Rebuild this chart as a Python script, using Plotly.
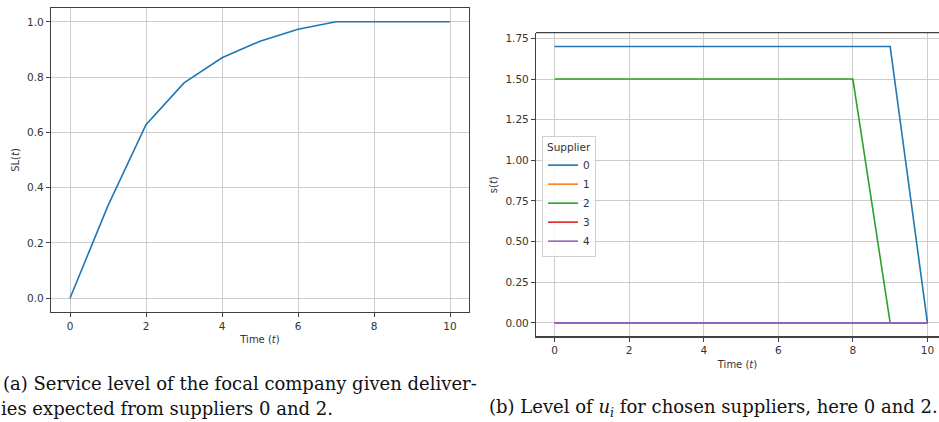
import plotly.graph_objects as go

W, H = 939, 422

# Data
t = [0, 1, 2, 3, 4, 5, 6, 7, 8, 9, 10]
service_level = [0.0, 0.335, 0.628, 0.779, 0.870, 0.930, 0.973, 1.0, 1.0, 1.0, 1.0]

suppliers = ["0", "1", "2", "3", "4"]
s0 = [1.7, 1.7, 1.7, 1.7, 1.7, 1.7, 1.7, 1.7, 1.7, 1.7, 0.0]
s1 = [0.0] * 11
s2 = [1.5, 1.5, 1.5, 1.5, 1.5, 1.5, 1.5, 1.5, 1.5, 0.0, 0.0]
s3 = [0.0] * 11
s4 = [0.0] * 11
supplier_values = [s0, s1, s2, s3, s4]
colors = ["#1f77b4", "#ff7f0e", "#2ca02c", "#d62728", "#9467bd"]

xticks = [0, 2, 4, 6, 8, 10]
yticks_a = [0.0, 0.2, 0.4, 0.6, 0.8, 1.0]
yticks_b = [0.0, 0.25, 0.5, 0.75, 1.0, 1.25, 1.5, 1.75]

fig = go.Figure()

fig.add_trace(go.Scatter(x=t, y=service_level, mode="lines",
                         line=dict(color=colors[0], width=1.6),
                         xaxis="x", yaxis="y", showlegend=False))

for name, vals, c in zip(suppliers, supplier_values, colors):
    fig.add_trace(go.Scatter(x=t, y=vals, mode="lines", name=name,
                             line=dict(color=c, width=1.6),
                             xaxis="x2", yaxis="y2", showlegend=True))

def px(x):
    return x / W

def py(y):
    return (H - y) / H

tickfont = dict(family="DejaVu Sans", size=10.5, color="#333333")
titlefont = dict(family="DejaVu Sans", size=10, color="#333333")
common = dict(showgrid=True, gridcolor="#cccccc", gridwidth=1,
              zeroline=False, showline=True, linecolor="#404040", linewidth=1.2,
              ticks="outside", ticklen=4, tickcolor="#404040", tickwidth=1,
              tickfont=tickfont)

fig.update_layout(
    width=W, height=H,
    margin=dict(l=0, r=0, t=0, b=0),
    paper_bgcolor="white", plot_bgcolor="white",
    showlegend=True,
    xaxis=dict(domain=[px(51), px(469)], anchor="y", range=[-0.5, 10.5],
               tickvals=xticks, ticktext=[str(v) for v in xticks], mirror=True,
               title=dict(text="Time (<i>t</i>)", font=titlefont, standoff=5),
               **common),
    yaxis=dict(domain=[py(312), py(8)], anchor="x", range=[-0.05, 1.05],
               tickvals=yticks_a, ticktext=[f"{v:.1f}" for v in yticks_a], mirror=True,
               title=dict(text="SL(<i>t</i>)", font=titlefont, standoff=5),
               **common),
    xaxis2=dict(domain=[px(536), 1.0], anchor="y2", range=[-0.5, 10.31],
                tickvals=xticks, ticktext=[str(v) for v in xticks], mirror=False,
                title=dict(text="Time (<i>t</i>)", font=titlefont, standoff=5),
                **common),
    yaxis2=dict(domain=[py(336.7), py(32.7)], anchor="x2", range=[-0.085, 1.785],
                tickvals=yticks_b, ticktext=[f"{v:.2f}" for v in yticks_b], mirror=False,
                title=dict(text="s(<i>t</i>)", font=titlefont, standoff=5),
                **common),
    legend=dict(x=px(542), y=py(136), xanchor="left", yanchor="top",
                bgcolor="rgba(255,255,255,0.85)", bordercolor="#d0d0d0", borderwidth=1,
                font=dict(family="DejaVu Sans", size=10.5, color="#333333"),
                title=dict(text="Supplier", side="top center",
                           font=dict(family="DejaVu Sans", size=10.5, color="#333333")),
                itemwidth=30, tracegroupgap=0),
)

# top and bottom spines for right plot (no right spine visible)
fig.add_shape(type="line", xref="paper", yref="paper",
              x0=px(536), x1=1.0, y0=py(32.7), y1=py(32.7),
              line=dict(color="#404040", width=1.2))
fig.add_shape(type="line", xref="paper", yref="paper",
              x0=px(536), x1=1.0, y0=py(336.7), y1=py(336.7),
              line=dict(color="#404040", width=1.2))

capfont = dict(family="DejaVu Serif", size=18, color="#111111")
fig.add_annotation(text="(a) Service level of the focal company given deliver-",
                   xref="paper", yref="paper", x=px(1), y=py(383),
                   xanchor="left", yanchor="middle", showarrow=False, font=capfont)
fig.add_annotation(text="ies expected from suppliers 0 and 2.",
                   xref="paper", yref="paper", x=px(-1), y=py(408),
                   xanchor="left", yanchor="middle", showarrow=False, font=capfont)
fig.add_annotation(text="(b) Level of <i>u<sub>i</sub></i> for chosen suppliers, here 0 and 2.",
                   xref="paper", yref="paper", x=px(487), y=py(408),
                   xanchor="left", yanchor="middle", showarrow=False, font=capfont)

fig.write_html("out.html")
